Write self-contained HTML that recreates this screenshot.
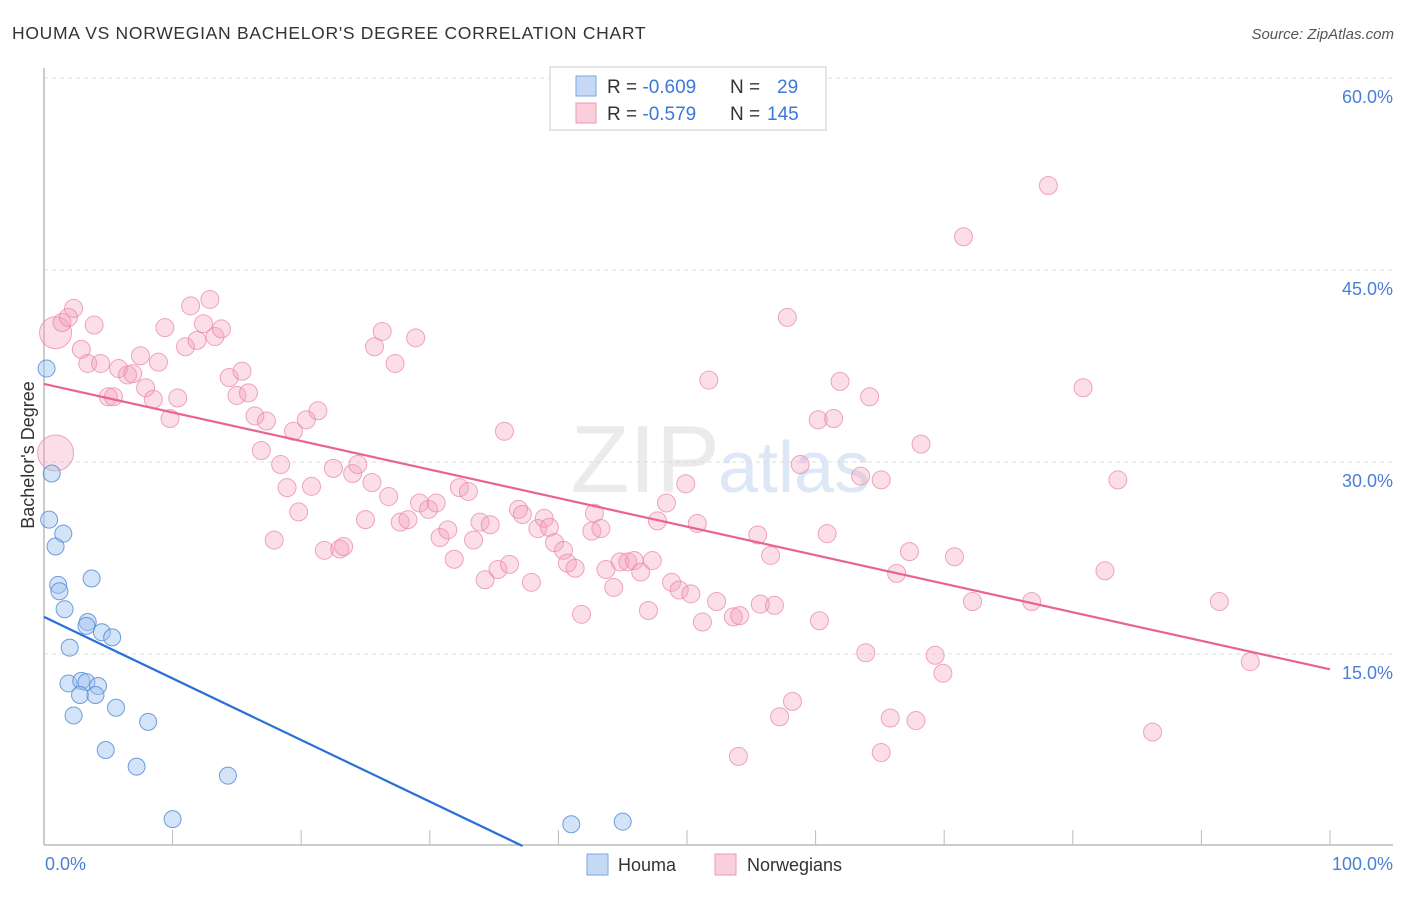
<!DOCTYPE html>
<html><head><meta charset="utf-8"><style>
body{margin:0;background:#fff;font-family:"Liberation Sans",sans-serif;}
svg text{font-family:"Liberation Sans",sans-serif;}
</style></head><body>
<svg width="1406" height="892" xmlns="http://www.w3.org/2000/svg">
<text x="12" y="39" font-size="17.5" fill="#333" letter-spacing="0.7">HOUMA VS NORWEGIAN BACHELOR'S DEGREE CORRELATION CHART</text>
<text x="1394" y="39" font-size="15" fill="#555" font-style="italic" text-anchor="end">Source: ZipAtlas.com</text>
<text x="720" y="492" font-size="96" fill="#ebebeb" text-anchor="end" font-family="Liberation Serif">ZIP</text>
<text x="718" y="492" font-size="72" fill="#dde7f5">atlas</text>
<g id="grid"></g>
<line x1="44" y1="68" x2="44" y2="845" stroke="#999"/>
<line x1="44" y1="845" x2="1393" y2="845" stroke="#999"/>
<g id="xticks"></g>
<text x="34" y="455" font-size="18" fill="#333" text-anchor="middle" transform="rotate(-90 34 455)">Bachelor's Degree</text>
<text x="45" y="870" font-size="18" fill="#4a7fd6">0.0%</text>
<text x="1393" y="870" font-size="18" fill="#4a7fd6" text-anchor="end">100.0%</text>
<g id="pts"></g>
<g id="lines"></g>
<g>
<rect x="550" y="67" width="276" height="63" fill="#fff" stroke="#ccc"/>
<rect x="576" y="76" width="20" height="20" fill="#c5d9f5" stroke="#7aa6e6"/>
<rect x="576" y="103" width="20" height="20" fill="#f9cfdc" stroke="#ee9ab5"/>
<text x="607" y="93" font-size="19" fill="#333">R = <tspan fill="#3b78d8">-0.609</tspan><tspan x="730">N = </tspan><tspan x="777" fill="#3b78d8">29</tspan></text>
<text x="607" y="120" font-size="19" fill="#333">R = <tspan fill="#3b78d8"> -0.579</tspan><tspan x="730">N = </tspan><tspan x="767" fill="#3b78d8">145</tspan></text>
</g>
<g>
<rect x="587" y="854" width="21" height="21" fill="#c5d9f5" stroke="#7aa6e6"/>
<text x="618" y="871" font-size="18" fill="#333">Houma</text>
<rect x="715" y="854" width="21" height="21" fill="#f9cfdc" stroke="#ee9ab5"/>
<text x="747" y="871" font-size="18" fill="#333">Norwegians</text>
</g>
</svg>
<script>
const yTicks=[15,30,45,60];
const yTickLabels=["15.0%","30.0%","45.0%","60.0%"];
const xTicks=[10,20,30,40,50,60,70,80,90,100];
const houmaX=[0.2,0.6,0.4,0.9,1.5,1.1,1.2,3.7,1.6,3.4,3.3,2.0,4.5,5.3,1.9,2.9,3.3,4.2,2.8,4.0,2.3,5.6,8.1,4.8,7.2,14.3,10.0,41.0,45.0];
const houmaY=[37.3,29.1,25.5,23.4,24.4,20.4,19.9,20.9,18.5,17.5,17.2,15.5,16.7,16.3,12.7,12.9,12.8,12.5,11.8,11.8,10.2,10.8,9.7,7.5,6.2,5.5,2.1,1.7,1.9];
const norX=[0.9,0.9,1.4,1.9,2.3,3.9,2.9,3.4,4.4,5.0,5.4,5.8,6.5,6.9,7.5,7.9,8.5,8.9,9.8,9.4,10.4,11.0,11.4,11.9,12.4,12.9,13.3,13.8,14.4,15.0,15.4,15.9,16.4,16.9,17.3,17.9,18.4,18.9,19.4,19.8,20.4,20.8,21.3,21.8,22.5,23.0,23.3,24.0,24.4,25.0,25.5,25.7,26.3,26.8,27.3,27.7,28.3,28.9,29.2,29.9,30.5,30.8,31.4,31.9,32.3,33.0,33.4,33.9,34.3,34.7,35.3,35.8,36.2,36.9,37.2,37.9,38.4,38.9,39.3,39.7,40.4,40.7,41.3,41.8,42.6,42.8,43.3,43.7,44.3,44.8,45.4,45.9,46.4,47.0,47.3,47.7,48.4,48.8,49.4,49.9,50.3,50.8,51.2,51.7,52.3,53.6,54.0,54.1,55.5,55.7,56.5,56.8,57.2,57.8,58.2,58.8,60.2,60.3,60.9,61.4,61.9,63.9,63.5,64.2,65.1,65.1,65.8,66.3,67.3,67.8,68.2,69.3,69.9,70.8,71.5,72.2,76.8,78.1,80.8,82.5,83.5,86.2,91.4,93.8];
const norY=[40.1,30.7,40.9,41.3,42.0,40.7,38.8,37.7,37.7,35.1,35.1,37.3,36.8,36.9,38.3,35.8,34.9,37.8,33.4,40.5,35.0,39.0,42.2,39.5,40.8,42.7,39.8,40.4,36.6,35.2,37.1,35.4,33.6,30.9,33.2,23.9,29.8,28.0,32.4,26.1,33.3,28.1,34.0,23.1,29.5,23.2,23.4,29.1,29.8,25.5,28.4,39.0,40.2,27.3,37.7,25.3,25.5,39.7,26.8,26.3,26.8,24.1,24.7,22.4,28.0,27.7,23.9,25.3,20.8,25.1,21.6,32.4,22.0,26.3,25.9,20.6,24.8,25.6,24.9,23.7,23.1,22.1,21.7,18.1,24.6,26.0,24.8,21.6,20.2,22.2,22.2,22.3,21.4,18.4,22.3,25.4,26.8,20.6,20.0,28.3,19.7,25.2,17.5,36.4,19.1,17.9,7.0,18.0,24.3,18.9,22.7,18.8,10.1,41.3,11.3,29.8,33.3,17.6,24.4,33.4,36.3,15.1,28.9,35.1,28.6,7.3,10.0,21.3,23.0,9.8,31.4,14.9,13.5,22.6,47.6,19.1,19.1,51.6,35.8,21.5,28.6,8.9,19.1,14.4];
const houmaFit=[17.9,-0.481];
const norFit=[36.1,13.8];
const NS="http://www.w3.org/2000/svg";
const sx=v=>44+v*12.86, sy=v=>846-v*12.8;
function mk(tag,at,parent){const e=document.createElementNS(NS,tag);for(const k in at)e.setAttribute(k,at[k]);document.getElementById(parent).appendChild(e);return e;}
yTicks.forEach((t,i)=>{
 const l=mk('line',{x1:44,x2:1393,y1:sy(t),y2:sy(t),stroke:'#ddd','stroke-dasharray':'4,4'},'grid');
 
 
 const tx=mk('text',{x:1393,y:sy(t)+25,'font-size':18,fill:'#4a7fd6','text-anchor':'end'},'grid');
 tx.textContent=yTickLabels[i];
 
 
});
xTicks.forEach(t=>{
 const l=mk('line',{x1:sx(t),x2:sx(t),y1:830,y2:845,stroke:'#bbb'},'xticks');
 
 
});
norX.forEach((x,i)=>{
 const r=i==0?16:(i==1?18:9);
 const c=mk('circle',{cx:sx(x),cy:sy(norY[i]),r:r,fill:'rgba(244,160,190,0.35)',stroke:'rgba(232,130,165,0.7)','stroke-width':1},'pts');
 
 
});
houmaX.forEach((x,i)=>{
 const c=mk('circle',{cx:sx(x),cy:sy(houmaY[i]),r:8.5,fill:'rgba(160,195,240,0.45)',stroke:'rgba(80,135,215,0.8)','stroke-width':1},'pts');
 
 
});
const x0=-houmaFit[0]/houmaFit[1];
const hl=mk('line',{x1:sx(0),y1:sy(houmaFit[0]),x2:sx(x0),y2:sy(0),stroke:'#2b6fd6','stroke-width':2.2},'lines');


const nl=mk('line',{x1:sx(0),y1:sy(norFit[0]),x2:sx(100),y2:sy(norFit[1]),stroke:'#e8648f','stroke-width':2.2},'lines');


</script>
</body></html>
